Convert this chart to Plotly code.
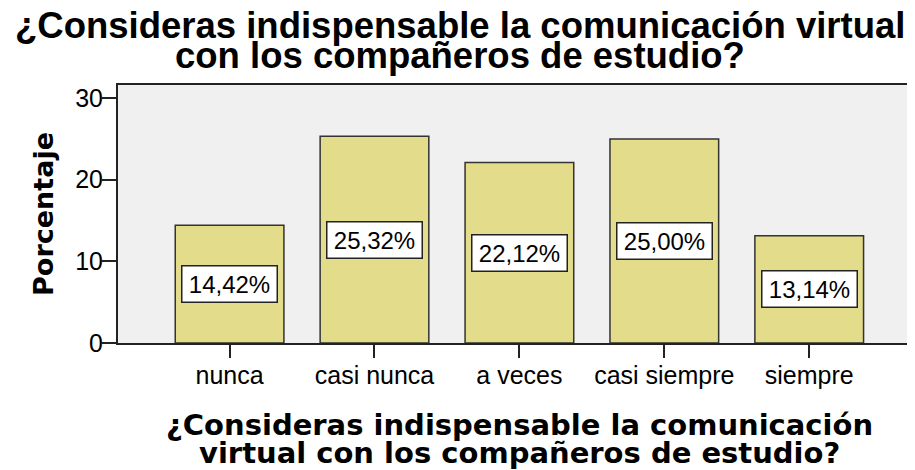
import plotly.graph_objects as go

categories = ["nunca", "casi nunca", "a veces", "casi siempre", "siempre"]
percentages = [14.42, 25.32, 22.12, 25.00, 13.14]
labels = ["14,42%", "25,32%", "22,12%", "25,00%", "13,14%"]
y_ticks = [0, 10, 20, 30]

title_lines = ["¿Consideras indispensable la comunicación virtual",
               "con los compañeros de estudio?"]
x_title_lines = ["¿Consideras indispensable la comunicación",
                 "virtual con los compañeros de estudio?"]

fig = go.Figure()
fig.add_trace(go.Bar(
    x=categories, y=percentages, width=0.75,
    marker=dict(color="#e3dc8b", line=dict(color="#333333", width=1.5)),
    hoverinfo="skip", showlegend=False,
))

# label boxes in the middle of each bar
for cat, val, lab in zip(categories, percentages, labels):
    fig.add_annotation(x=cat, y=val / 2, text=lab, showarrow=False,
                       font=dict(family="Liberation Sans, Arial", size=24, color="black"),
                       bgcolor="white", bordercolor="#222222", borderwidth=1.5,
                       width=92, height=33, borderpad=1)

# title, one annotation per line so the line spacing can be tight
for line, shift in zip(title_lines, [60, 30]):
    fig.add_annotation(x=0.429, y=1, xref="paper", yref="paper", yshift=shift,
                       text=f"<b>{line}</b>", showarrow=False, xanchor="center", yanchor="middle",
                       font=dict(family="Liberation Sans, Arial", size=36.5, color="black"))

# x axis title, same idea
for line, shift in zip(x_title_lines, [-82, -110]):
    fig.add_annotation(x=0.504, y=0, xref="paper", yref="paper", yshift=shift,
                       text=f"<b>{line}</b>", showarrow=False, xanchor="center", yanchor="middle",
                       font=dict(family="DejaVu Sans", size=29, color="black"))

# page body adds an 8px margin, so the figure is 8px smaller and margins shifted
fig.update_layout(
    width=907, height=462,
    margin=dict(l=110, r=0, t=77, b=127),
    paper_bgcolor="white", plot_bgcolor="#f0f0f0",
    font=dict(family="Liberation Sans, Arial", color="black"),
    xaxis=dict(
        range=[-0.77, 4.73], showgrid=False, zeroline=False, automargin=False,
        showline=True, linecolor="#222222", linewidth=2, mirror=True,
        ticks="outside", ticklen=13, tickwidth=2, tickcolor="#222222",
        tickfont=dict(size=25), ticklabelstandoff=-4,
    ),
    yaxis=dict(
        range=[0, 31.6], tickvals=y_ticks, showgrid=False, zeroline=False, automargin=False,
        showline=True, linecolor="#222222", linewidth=2,
        ticks="outside", ticklen=14, tickwidth=2, tickcolor="#222222",
        tickfont=dict(size=25), ticklabelstandoff=-6,
        title=dict(text="<b>Porcentaje</b>", font=dict(family="DejaVu Sans", size=27), standoff=14),
    ),
)

fig.write_html("out.html")
